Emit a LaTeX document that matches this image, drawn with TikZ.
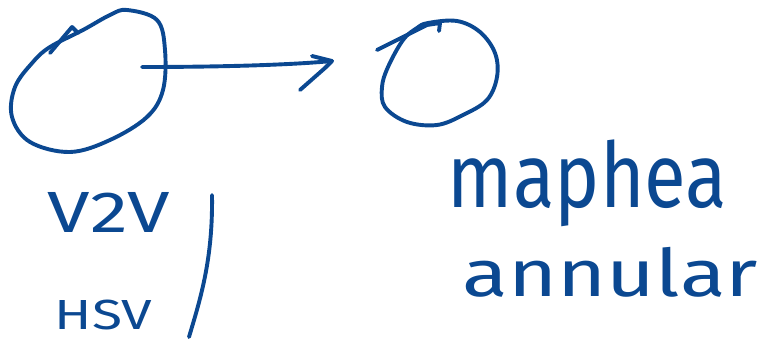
\documentclass[tikz,border=0pt]{standalone}
\usepackage{graphicx}
\usepackage{fontspec}
\setmainfont{Fira Sans}
\definecolor{ink}{RGB}{11,72,145}
\begin{document}
\begin{tikzpicture}[x=1pt,y=-1pt,
  pen/.style={draw=ink,line width=3.9pt,line cap=round,line join=round},
  word/.style={inner sep=0pt,text=ink}]
\useasboundingbox (0,0) rectangle (761,342);
% left circle
\draw[pen] plot[smooth cycle,tension=0.6] coordinates {
 (110,15) (127,10) (157,20) (165,50) (163,90) (147,117) (110,140) (70,152)
 (30,142) (12,117) (15,87) (33,62) (50,47) (83,30)};
\draw[pen] (50,53) -- (72,27) -- (78,33);
% right circle
\draw[pen] plot[smooth cycle,tension=0.6] coordinates {
 (428,23) (457,21) (480,32) (495,53) (497,77) (487,100) (463,115) (437,125)
 (407,122) (385,107) (382,87) (388,67) (403,40) (417,28)};
\draw[pen] (377,50) -- (427,25) -- (440,23) -- (439,31);
% arrow
\coordinate (a) at (142,67);
\coordinate (b) at (332,61);
\draw[pen] (a) .. controls (220,67) and (290,65) .. (b);
\draw[pen] (312,56) -- (b) -- (325,68) -- (300,90);
% vertical stroke
\coordinate (t) at (212,195);
\coordinate (u) at (189,337);
\draw[pen] (t) .. controls (213,260) and (200,300) .. (u);
% texts
\node[word] (v2v) at (109,212) {\resizebox*{122pt}{40pt}{V2V}};
\node[word] (hsv) at (103.5,315) {\resizebox*{97pt}{30pt}{HSV}};
\node[word] (maphea) at (587.5,183.5) {\resizebox*{279pt}{87pt}{maphea}};
\node[word] (annular) at (610.5,272) {\resizebox*{295pt}{50pt}{annular}};
\end{tikzpicture}
\end{document}
